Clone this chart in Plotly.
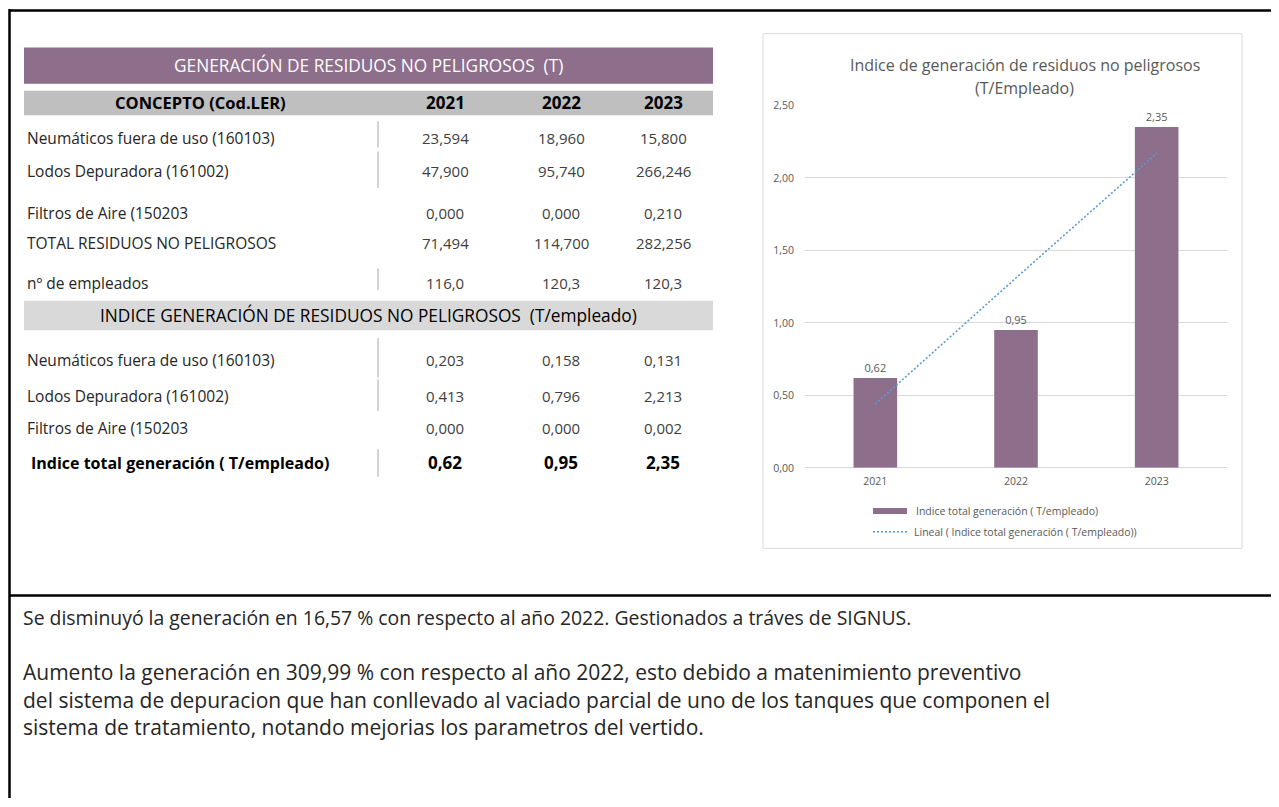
import plotly.graph_objects as go

# --- data --------------------------------------------------------------------
YEARS = ["2021", "2022", "2023"]

CONCEPTS = [
    "Neumáticos fuera de uso (160103)",
    "Lodos Depuradora (161002)",
    "Filtros de Aire (150203",
    "TOTAL RESIDUOS NO PELIGROSOS",
    "nº de empleados",
]
NEUMATICOS_T = [23.594, 18.960, 15.800]
LODOS_T = [47.900, 95.740, 266.246]
FILTROS_T = [0.000, 0.000, 0.210]
TOTAL_T = [71.494, 114.700, 282.256]
EMPLEADOS = [116.0, 120.3, 120.3]

INDEX_CONCEPTS = [
    "Neumáticos fuera de uso (160103)",
    "Lodos Depuradora (161002)",
    "Filtros de Aire (150203",
]
NEUMATICOS_IDX = [0.203, 0.158, 0.131]
LODOS_IDX = [0.413, 0.796, 2.213]
FILTROS_IDX = [0.000, 0.000, 0.002]
TOTAL_LABEL = "Indice total generación ( T/empleado)"
INDICE_TOTAL = [0.62, 0.95, 2.35]
# Excel linear trendline
TREND = [0.44, 1.31, 2.17]

Y_TICKS = [0, 0.5, 1.0, 1.5, 2.0, 2.5]

NOTE_1 = "Se disminuyó la generación en 16,57 % con respecto al año 2022. Gestionados a tráves de SIGNUS."
NOTE_2 = [
    "Aumento la generación en 309,99 % con respecto al año 2022, esto debido a matenimiento preventivo",
    "del sistema de depuracion que han conllevado al vaciado parcial de uno de los tanques que componen el",
    "sistema de tratamiento, notando mejorias los parametros del vertido.",
]

# --- page geometry (reference pixels -> paper coords) --------------------------
W, H = 1270, 790
OX, OY = 8, 8  # browser body margin

PURPLE = "#8d6e8b"
GREY_TXT = "#595959"
TREND_BLUE = "#5b9bd5"
FONT = "Open Sans"


def X(px):
    return (px - OX) / W


def Y(py):
    return 1 - (py - OY) / H


def es(v, d):
    return f"{v:.{d}f}".replace(".", ",")


shapes = []
annotations = []


def rect(x0, y0, x1, y1, fill=None, line=None, lw=1):
    shapes.append(dict(
        type="rect", xref="paper", yref="paper",
        x0=X(x0), x1=X(x1), y0=Y(y1), y1=Y(y0),
        fillcolor=fill or "rgba(0,0,0,0)",
        line=dict(color=line or "rgba(0,0,0,0)", width=lw if line else 0),
        layer="below",
    ))


def hline(x0, x1, y, color, width, dash="solid"):
    shapes.append(dict(type="line", xref="paper", yref="paper",
                       x0=X(x0), x1=X(x1), y0=Y(y), y1=Y(y),
                       line=dict(color=color, width=width, dash=dash)))


def vline(x, y0, y1, color, width):
    shapes.append(dict(type="line", xref="paper", yref="paper",
                       x0=X(x), x1=X(x), y0=Y(y0), y1=Y(y1),
                       line=dict(color=color, width=width)))


def text(x, y, s, size=15, color="#262626", anchor="left", bold=False):
    if bold:
        s = f"<b>{s}</b>"
    annotations.append(dict(
        x=X(x), y=Y(y), xref="paper", yref="paper", text=s, showarrow=False,
        xanchor=anchor, yanchor="middle",
        font=dict(family=FONT, size=size, color=color),
    ))


# outer frame
vline(9.5, 2, 807, "black", 2.5)
hline(9, 1279, 3.5, "black", 2.5)
hline(9, 1279, 599, "black", 2.5)

# --- table ---------------------------------------------------------------------
COL_X = [445, 561, 663]
LABEL_X = 25

rect(24, 41, 713, 78, fill=PURPLE)
text(368, 59.5, "GENERACIÓN DE RESIDUOS NO PELIGROSOS  (T)", size=17.3, color="white", anchor="center")

rect(24, 85, 713, 110, fill="#bfbfbf")
text(200, 97.5, "CONCEPTO (Cod.LER)", size=16.5, color="black", anchor="center", bold=True)
for cx, yr in zip(COL_X, YEARS):
    text(cx, 97.5, yr, size=17, color="black", anchor="center", bold=True)

section1 = [NEUMATICOS_T, LODOS_T, FILTROS_T, TOTAL_T, EMPLEADOS]
decimals1 = [3, 3, 3, 3, 1]
rows_y1 = [133, 167, 210, 240, 281]
for label, vals, d, ry in zip(CONCEPTS, section1, decimals1, rows_y1):
    text(LABEL_X, ry, label, size=15.5)
    for cx, v in zip(COL_X, vals):
        text(cx, ry, es(v, d), size=15, color="#404040", anchor="center")

rect(24, 299, 713, 329, fill="#d9d9d9")
text(368, 314, "INDICE GENERACIÓN DE RESIDUOS NO PELIGROSOS  (T/empleado)", size=17.3,
     color="black", anchor="center")

section2 = [NEUMATICOS_IDX, LODOS_IDX, FILTROS_IDX]
rows_y2 = [359, 396, 428]
for label, vals, ry in zip(INDEX_CONCEPTS, section2, rows_y2):
    text(LABEL_X, ry, label, size=15.5)
    for cx, v in zip(COL_X, vals):
        text(cx, ry, es(v, 3), size=15, color="#404040", anchor="center")

text(29, 464, TOTAL_LABEL, size=16, color="black", bold=True)
for cx, v in zip(COL_X, INDICE_TOTAL):
    text(cx, 464, es(v, 2), size=17, color="black", anchor="center", bold=True)

for y0, y1 in [(116, 143), (147, 184), (266, 288), (337, 377), (379, 411), (450, 478)]:
    vline(378, y0, y1, "#a6a6a6", 1)

# --- chart ---------------------------------------------------------------------
rect(763, 27, 1242, 551, line="#d9d9d9", lw=1)
text(1025, 59, "Indice de generación de residuos no peligrosos", size=16, color=GREY_TXT, anchor="center")
text(1025, 82, "(T/Empleado)", size=16, color=GREY_TXT, anchor="center")

fig = go.Figure()
fig.add_trace(go.Bar(
    x=YEARS, y=INDICE_TOTAL, width=0.31,
    marker=dict(color=PURPLE, line=dict(width=0)),
    texttemplate="%{y:.2f}", textposition="outside",
    textfont=dict(family=FONT, size=11, color=GREY_TXT),
    cliponaxis=False, name=TOTAL_LABEL, showlegend=False,
))
fig.add_trace(go.Scatter(
    x=YEARS, y=TREND, mode="lines",
    line=dict(color=TREND_BLUE, width=1.6, dash="2px,2px"),
    name=f"Lineal ( {TOTAL_LABEL})", showlegend=False,
))

# manual legend
rect(873, 510, 907, 516, fill=PURPLE)
text(914, 513, TOTAL_LABEL, size=10.5, color=GREY_TXT)
hline(873, 907, 534, TREND_BLUE, 1.6, dash="2px,2px")
text(912, 534, f"Lineal ( {TOTAL_LABEL})", size=10.5, color=GREY_TXT)

# --- notes ---------------------------------------------------------------------
text(21, 621, NOTE_1, size=19.4)
for ln, ny in zip(NOTE_2, [677, 705, 733]):
    text(21, ny, ln, size=21)

fig.update_layout(
    width=W, height=H, autosize=False,
    margin=dict(l=0, r=0, t=0, b=0),
    paper_bgcolor="white", plot_bgcolor="white",
    separators=",.",
    font=dict(family=FONT, color=GREY_TXT),
    xaxis=dict(
        domain=[X(805), X(1227)], type="category", categoryorder="array",
        categoryarray=YEARS, range=[-0.5, 2.5], showgrid=False, showline=False,
        ticks="", tickfont=dict(size=10.5, color=GREY_TXT), ticklabelstandoff=6,
        fixedrange=True,
    ),
    yaxis=dict(
        domain=[Y(469), Y(100)], range=[0, 2.5], tickvals=Y_TICKS, tickformat=".2f",
        showgrid=True, gridcolor="#d9d9d9", gridwidth=1, zeroline=True,
        zerolinecolor="#d9d9d9", zerolinewidth=1, showline=False, ticks="",
        tickfont=dict(size=10.5, color=GREY_TXT), ticklabelstandoff=10,
        fixedrange=True,
    ),
    shapes=shapes,
    annotations=annotations,
)

fig.write_html("out.html")
